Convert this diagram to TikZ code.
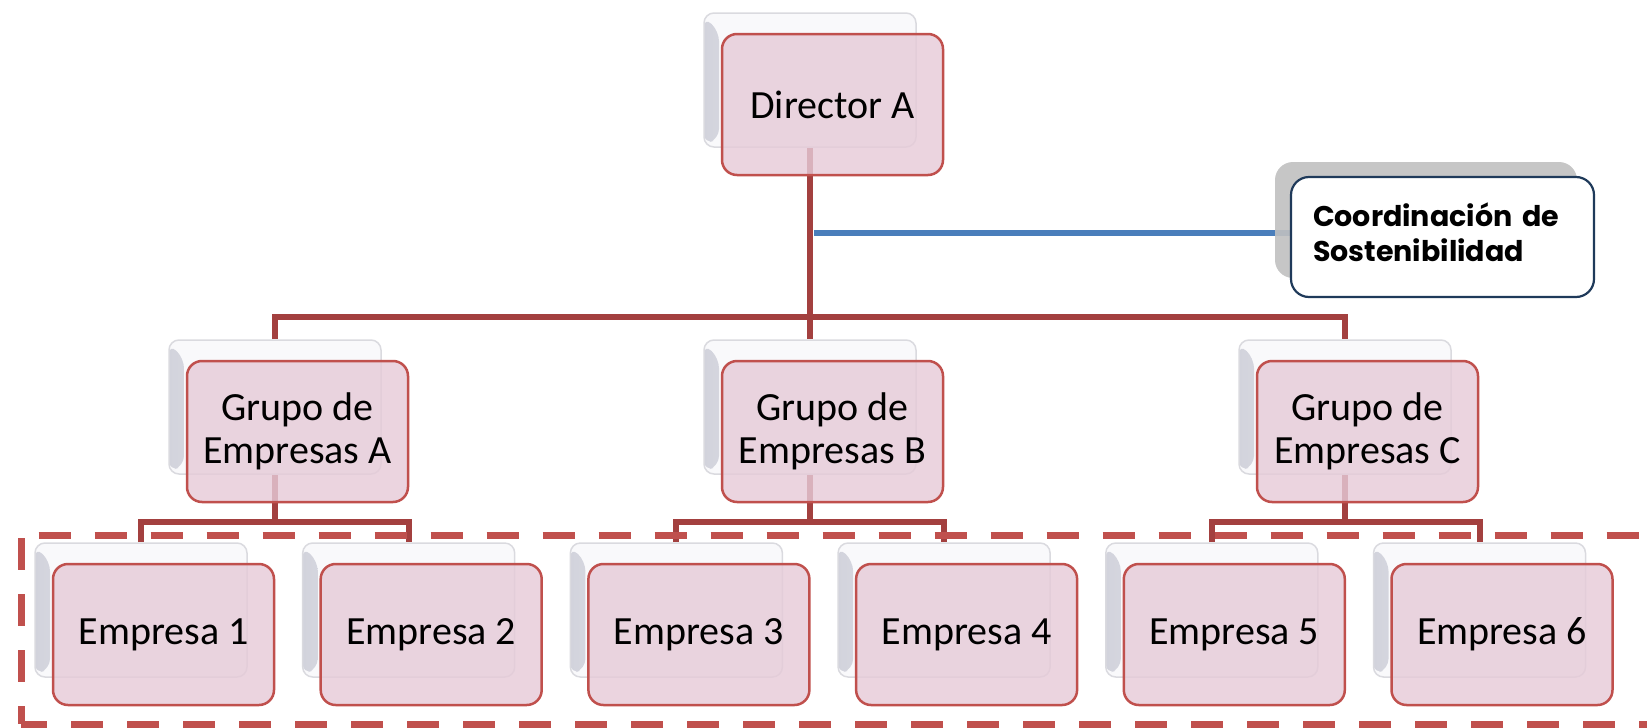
\documentclass[tikz,border=0pt]{standalone}
\usepackage{fontspec}
\setmainfont{Carlito}
\newfontfamily\coordfont{Poppins}
\usetikzlibrary{calc}
\pgfdeclarelayer{bg}
\pgfsetlayers{bg,main}
\definecolor{boxred}{HTML}{C0504D}
\definecolor{boxpink}{HTML}{E6CBD8}
\definecolor{connred}{HTML}{A3403F}
\definecolor{dashred}{HTML}{C0504D}
\definecolor{sustblue}{HTML}{4A7EBB}
\definecolor{navy}{HTML}{1F3A5A}
\definecolor{backline}{HTML}{DADADF}
\definecolor{backfill}{HTML}{F9F9FB}
\definecolor{bevel}{HTML}{D2D3DC}
\definecolor{coordgray}{HTML}{C0C0C0}
\begin{document}
\begin{tikzpicture}[x=1pt,y=-1pt,
  frontbox/.style={draw=boxred, line width=2.5pt, fill=boxpink, fill opacity=0.82, text opacity=1,
    rounded corners=15pt, minimum width=221pt, minimum height=141pt, inner sep=0pt, align=center,
    font=\fontsize{40}{43}\selectfont},
  backbox/.style={draw=backline, line width=1.5pt, fill=backfill, rounded corners=10pt,
    minimum width=212pt, minimum height=134pt, inner sep=0pt,
    path picture={\shade[left color=bevel, right color=backfill]
      ([yshift=-4pt]path picture bounding box.north west) --
      ([xshift=15pt,yshift=-18pt]path picture bounding box.north west) --
      ([xshift=15pt,yshift=8pt]path picture bounding box.south west) --
      ([yshift=3pt]path picture bounding box.south west) -- cycle;}},
  conn/.style={draw=connred, line width=6pt, line join=miter},
  sust/.style={draw=sustblue, line width=6pt},
  frame/.style={draw=dashred, line width=7pt, dash pattern=on 32pt off 24pt},
  coordback/.style={fill=coordgray, fill opacity=0.9, rounded corners=18pt, minimum width=302pt, minimum height=116pt, inner sep=0pt},
  coordfront/.style={draw=navy, line width=2.2pt, fill=white, rounded corners=18pt, minimum width=303pt,
    minimum height=120pt, inner sep=0pt, text width=259pt, align=left,
    font=\coordfont\bfseries\fontsize{28.5}{35}\selectfont}
]
\useasboundingbox (0,0) rectangle (1647,728);

% Director
\node[backbox] (dirb) at (810,80) {};
\node[frontbox] (dir) at (832.5,104.5) {Director A};

% Coordination
\node[coordback] (coordb) at (1426,220) {};
\node[coordfront] (coord) at (1442.5,237) {Coordinación de\\Sostenibilidad\\[-25pt]\mbox{}};

% Groups
\node[backbox] (gab) at (275,407) {};
\node[frontbox] (ga) at (297.5,431.5) {Grupo de\\Empresas A};
\node[backbox] (gbb) at (810,407) {};
\node[frontbox] (gb) at (832.5,431.5) {Grupo de\\Empresas B};
\node[backbox] (gcb) at (1345,407) {};
\node[frontbox] (gc) at (1367.5,431.5) {Grupo de\\Empresas C};

% Empresas
\node[backbox] (e1b) at (141,610) {};
\node[frontbox] (e1) at (163.5,634.5) {Empresa 1};
\node[backbox] (e2b) at (408.7,610) {};
\node[frontbox] (e2) at (431.2,634.5) {Empresa 2};
\node[backbox] (e3b) at (676.4,610) {};
\node[frontbox] (e3) at (698.9,634.5) {Empresa 3};
\node[backbox] (e4b) at (944.1,610) {};
\node[frontbox] (e4) at (966.6,634.5) {Empresa 4};
\node[backbox] (e5b) at (1211.8,610) {};
\node[frontbox] (e5) at (1234.3,634.5) {Empresa 5};
\node[backbox] (e6b) at (1479.5,610) {};
\node[frontbox] (e6) at (1502,634.5) {Empresa 6};

\coordinate (bar1) at (0,317);
\coordinate (bar2) at (0,522);
\coordinate (bl) at (814,233);

\begin{pgfonlayer}{bg}
\draw[conn] (dirb.south) -- (gbb.north);
\draw[conn] (gab.north) -- (gab.north |- bar1) -- (gcb.north |- bar1) -- (gcb.north);
\draw[sust] (bl) -- (bl -| coord.west);
\draw[conn] (gab.south) -- (gab.south |- bar2);
\draw[conn] (e1b.north) -- (e1b.north |- bar2) -- (e2b.north |- bar2) -- (e2b.north);
\draw[conn] (gbb.south) -- (gbb.south |- bar2);
\draw[conn] (e3b.north) -- (e3b.north |- bar2) -- (e4b.north |- bar2) -- (e4b.north);
\draw[conn] (gcb.south) -- (gcb.south |- bar2);
\draw[conn] (e5b.north) -- (e5b.north |- bar2) -- (e6b.north |- bar2) -- (e6b.north);
\end{pgfonlayer}

% dashed frame (right side beyond the picture)
\draw[frame, dash phase=38.4pt] (21,535) -- (1680,535);
\draw[frame, dash phase=53pt] (21,535) -- (21,724);
\draw[frame, dash phase=6pt] (21,724) -- (1680,724);
\end{tikzpicture}
\end{document}
